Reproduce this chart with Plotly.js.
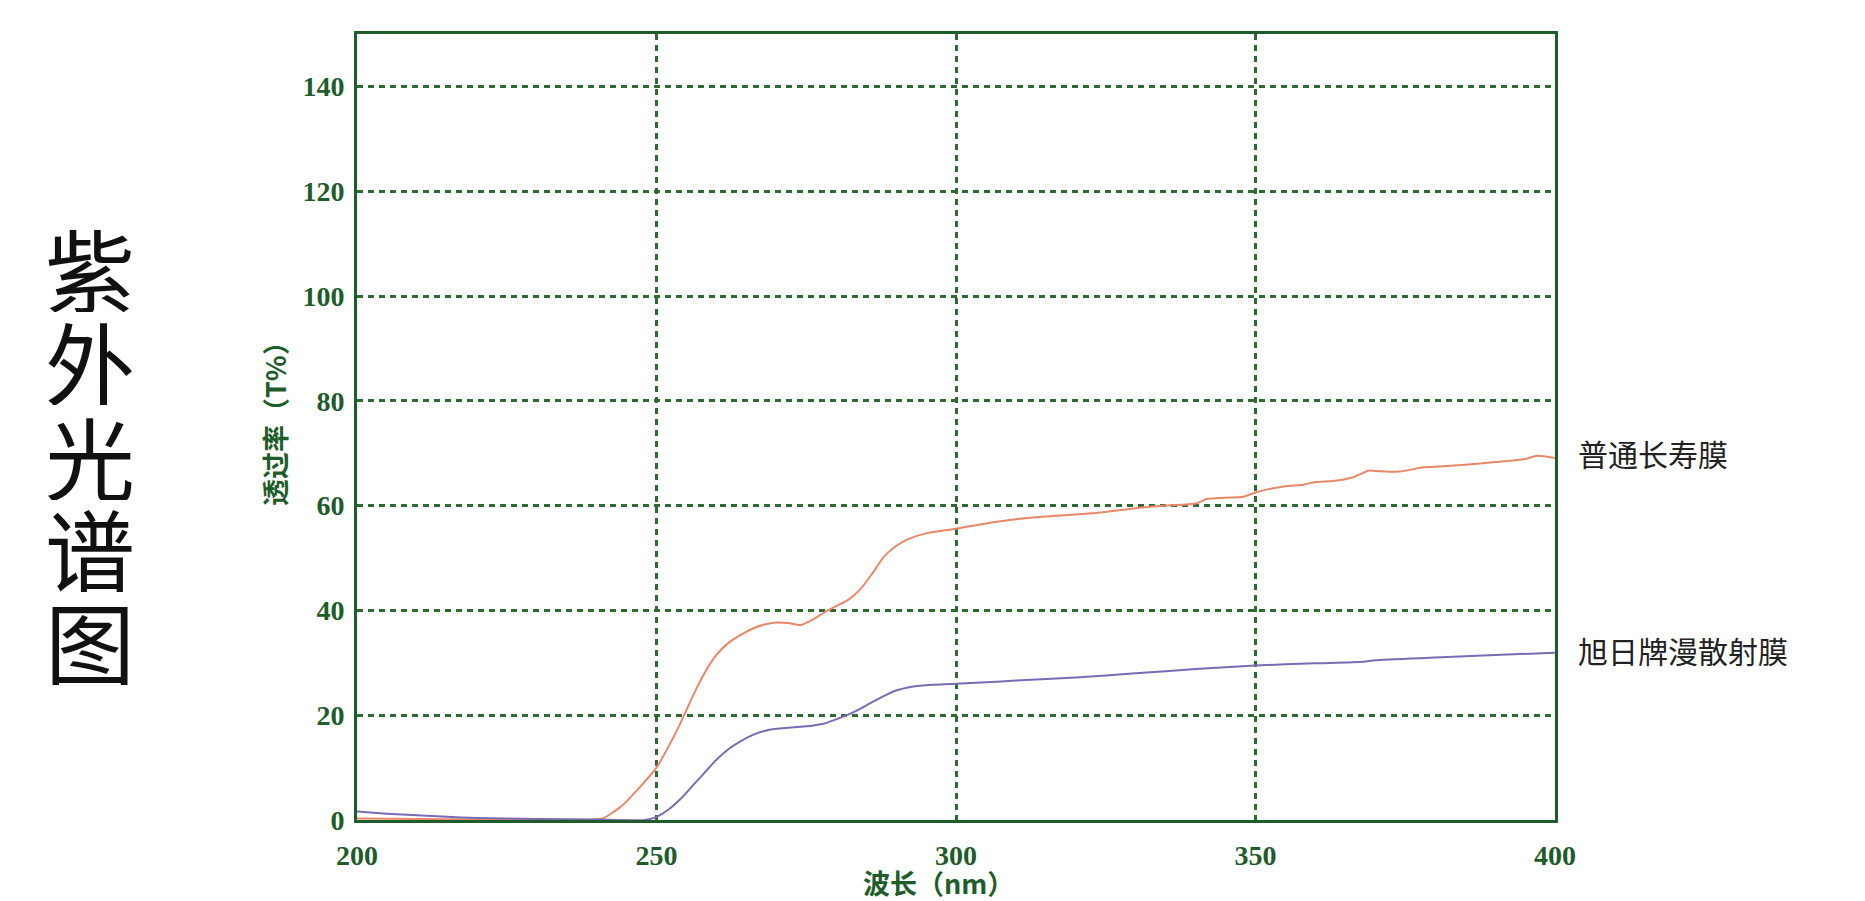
<!DOCTYPE html>
<html>
<head>
<meta charset="utf-8">
<script src="https://cdn.plot.ly/plotly-3.0.1.min.js"></script>
<style>
  html, body { margin: 0; padding: 0; background: #ffffff; }
  #chart { width: 1865px; height: 901px; }
</style>
</head>
<body>
<div id="chart"></div>
<script>
// Wavelength (nm) and transmittance (T%) for each film
const seriesNames = ["普通长寿膜", "旭日牌漫散射膜"];

const ordinaryX = [200, 210, 220, 230, 238, 241, 244, 247, 250, 252, 254, 256, 258, 260, 262, 264, 266, 268, 270, 272, 274, 276, 278, 280, 282, 284, 286, 288, 290, 292, 295, 300, 305, 310, 315, 320, 325, 330, 335, 340, 342, 345, 348, 350, 352, 355, 358, 360, 363, 366, 369, 370, 374, 378, 380, 385, 390, 395, 397, 400];
const ordinaryY = [0.3, 0.2, 0.1, 0, 0, 0.3, 2.5, 6, 10, 14, 18.5, 23.5, 28, 31.5, 33.8, 35.3, 36.5, 37.3, 37.7, 37.6, 37.2, 38.2, 39.6, 40.8, 42, 44, 47, 50.3, 52.3, 53.6, 54.7, 55.6, 56.6, 57.4, 57.9, 58.3, 58.8, 59.5, 60, 60.4, 61.3, 61.5, 61.7, 62.5, 63.1, 63.7, 64, 64.5, 64.7, 65.3, 66.7, 66.6, 66.5, 67.3, 67.4, 67.8, 68.3, 68.9, 69.5, 69.1];

const diffuseX = [200, 205, 210, 215, 220, 225, 230, 240, 248, 250, 252, 254, 256, 258, 260, 262, 264, 266, 268, 270, 272, 274, 276, 278, 280, 282, 284, 286, 288, 290, 292, 295, 300, 305, 310, 320, 330, 340, 350, 360, 368, 370, 380, 390, 400];
const diffuseY = [1.6, 1.2, 0.9, 0.6, 0.4, 0.3, 0.2, 0.1, 0, 0.6, 2, 4, 6.5, 9, 11.5, 13.5, 15, 16.2, 17, 17.4, 17.6, 17.8, 18, 18.4, 19.2, 20.1, 21.2, 22.5, 23.7, 24.7, 25.3, 25.7, 26, 26.3, 26.6, 27.2, 28, 28.8, 29.5, 29.9, 30.2, 30.5, 31, 31.5, 31.9];

const xTicks = [200, 250, 300, 350, 400];
const yTicks = [0, 20, 40, 60, 80, 100, 120, 140];
const titleChars = ["紫", "外", "光", "谱", "图"];
const xTitle = "波长（nm）";
const yTitle = "透过率（T%）";

const green = "#1f5c2c";
const gridGreen = "#2f6a33";

const plotL = 357, plotR = 1555, plotT = 34, plotB = 820;
const plotW = plotR - plotL, plotH = plotB - plotT;
const px = v => (v - plotL) / plotW;
const py = v => (plotB - v) / plotH;

const traces = [
  { x: ordinaryX, y: ordinaryY, name: seriesNames[0], type: "scatter", mode: "lines",
    line: { color: "#e8886a", width: 2, shape: "spline", smoothing: 0.6 } },
  { x: diffuseX, y: diffuseY, name: seriesNames[1], type: "scatter", mode: "lines",
    line: { color: "#7a6cb2", width: 2, shape: "spline", smoothing: 0.6 } }
];

const annotations = [];
const charCenters = [267, 360, 455, 547, 640];
titleChars.forEach((c, i) => {
  annotations.push({ text: c, xref: "paper", yref: "paper", x: px(90), y: py(charCenters[i]),
    xanchor: "center", yanchor: "middle", showarrow: false, height: 90, valign: "middle",
    font: { family: "Noto Sans CJK SC", size: 90, color: "#111111" } });
});
annotations.push({ text: seriesNames[0], xref: "paper", yref: "paper", x: px(1576), y: py(453),
  xanchor: "left", yanchor: "middle", showarrow: false,
  font: { family: "Noto Sans CJK SC", size: 30, color: "#222222" } });
annotations.push({ text: seriesNames[1], xref: "paper", yref: "paper", x: px(1576), y: py(650),
  xanchor: "left", yanchor: "middle", showarrow: false,
  font: { family: "Noto Sans CJK SC", size: 30, color: "#222222" } });
annotations.push({ text: "<b>" + xTitle + "</b>", xref: "paper", yref: "paper", x: px(938), y: py(882),
  xanchor: "center", yanchor: "middle", showarrow: false,
  font: { family: "Noto Sans CJK SC", size: 27, color: green } });
annotations.push({ text: "<b>" + yTitle + "</b>", xref: "paper", yref: "paper", x: px(274), y: py(417),
  xanchor: "center", yanchor: "middle", showarrow: false, textangle: -90,
  font: { family: "Noto Sans CJK SC", size: 27, color: green } });

const layout = {
  width: 1865, height: 901,
  margin: { l: plotL, r: 1865 - plotR, t: plotT, b: 901 - plotB, pad: 0 },
  paper_bgcolor: "#ffffff", plot_bgcolor: "#ffffff",
  showlegend: false,
  xaxis: {
    range: [200, 400], tickvals: xTicks, ticktext: xTicks.map(String),
    ticks: "", ticklabelstandoff: 8,
    showgrid: true, gridcolor: gridGreen, gridwidth: 3, griddash: "6px,5px",
    zeroline: false, showline: true, mirror: true, linecolor: green, linewidth: 3,
    tickfont: { family: "Liberation Serif", size: 28, color: green, weight: "bold" }
  },
  yaxis: {
    range: [0, 150], tickvals: yTicks, ticktext: yTicks.map(String),
    ticks: "", ticklabelstandoff: 4,
    showgrid: true, gridcolor: gridGreen, gridwidth: 3, griddash: "6px,5px",
    zeroline: false, showline: true, mirror: true, linecolor: green, linewidth: 3,
    tickfont: { family: "Liberation Serif", size: 28, color: green, weight: "bold" }
  },
  annotations: annotations
};

Plotly.newPlot("chart", traces, layout, { displayModeBar: false, staticPlot: true });
</script>
</body>
</html>
